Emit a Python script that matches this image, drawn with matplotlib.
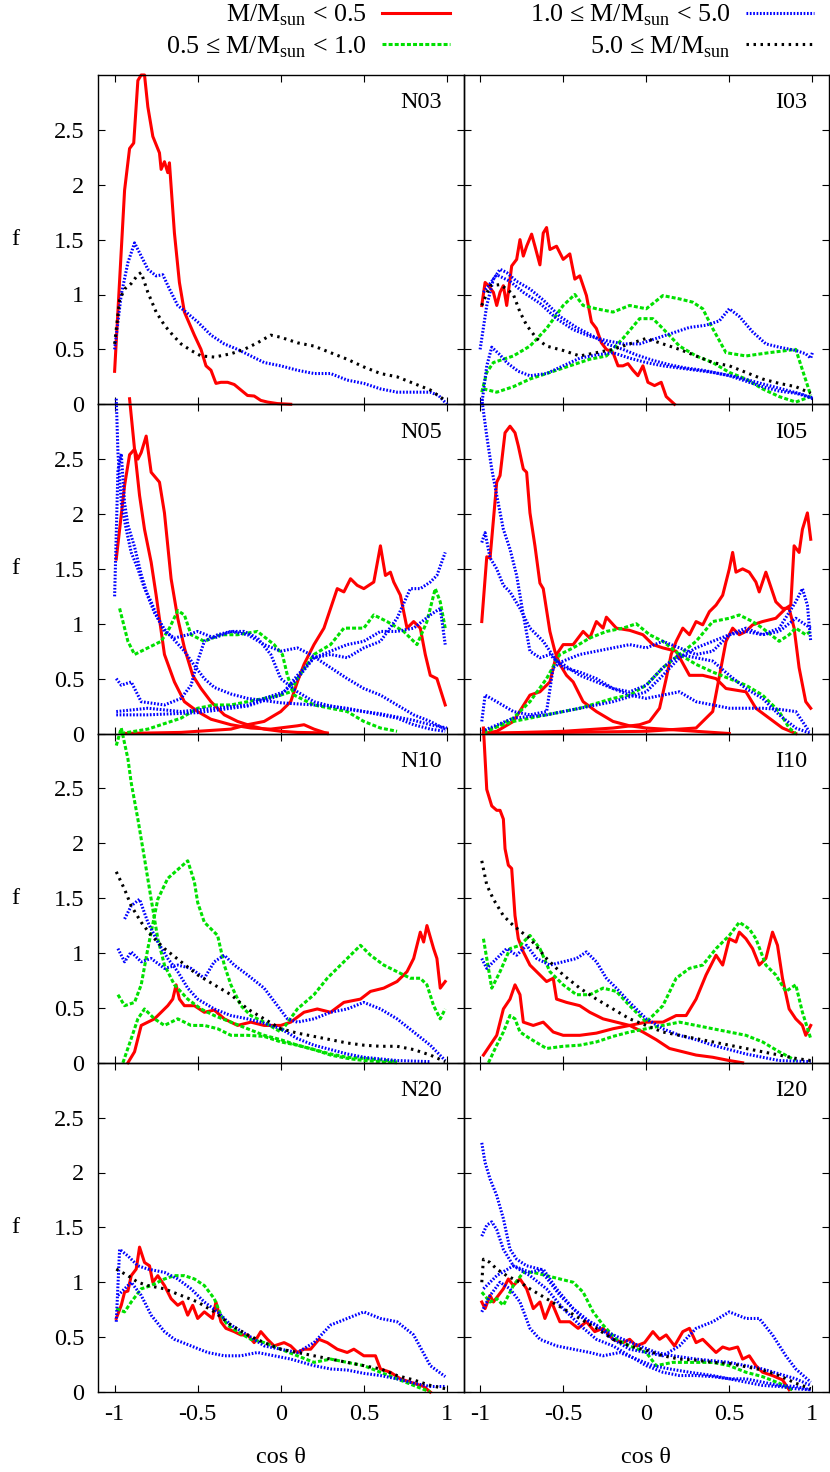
import matplotlib
matplotlib.use("Agg")
import matplotlib.pyplot as plt
from matplotlib.lines import Line2D

plt.rcParams['font.family'] = ['Liberation Serif', 'DejaVu Serif']
plt.rcParams['mathtext.fontset'] = 'custom'
plt.rcParams['mathtext.rm'] = 'Liberation Serif'
FS = 17.5
FS_LEG = 18.7

# ---- data: (cos theta, f) ----
N03_RED = [(-1.0, 0.30), (-0.94, 1.95), (-0.91, 2.33), (-0.885, 2.38), (-0.86, 2.95), (-0.84, 3.0),
           (-0.82, 3.0), (-0.80, 2.71), (-0.77, 2.44), (-0.73, 2.29), (-0.72, 2.14), (-0.70, 2.21),
           (-0.68, 2.11), (-0.67, 2.20), (-0.64, 1.56), (-0.61, 1.11), (-0.58, 0.84), (-0.52, 0.63),
           (-0.48, 0.50), (-0.45, 0.35), (-0.42, 0.31), (-0.39, 0.19), (-0.36, 0.20), (-0.32, 0.20),
           (-0.28, 0.18), (-0.24, 0.13), (-0.20, 0.08), (-0.16, 0.075), (-0.12, 0.035), (-0.08, 0.02),
           (-0.02, 0.006), (0.06, 0.0)]
N03_BLUE = [(-1.0, 0.50), (-0.96, 1.0), (-0.92, 1.29), (-0.88, 1.47), (-0.80, 1.23), (-0.75, 1.17),
            (-0.71, 1.18), (-0.67, 1.05), (-0.62, 0.90), (-0.57, 0.84), (-0.50, 0.75), (-0.42, 0.63),
            (-0.34, 0.55), (-0.26, 0.50), (-0.18, 0.44), (-0.10, 0.38), (0.0, 0.35), (0.10, 0.31),
            (0.20, 0.28), (0.30, 0.28), (0.40, 0.22), (0.50, 0.19), (0.60, 0.14), (0.70, 0.11),
            (0.80, 0.11), (0.90, 0.11), (0.95, 0.08), (1.0, 0.0)]
N03_BLACK = [(-1.0, 0.55), (-0.97, 0.95), (-0.94, 1.05), (-0.90, 1.10), (-0.86, 1.18), (-0.84, 1.20),
             (-0.80, 1.02), (-0.75, 0.84), (-0.70, 0.72), (-0.65, 0.63), (-0.60, 0.55), (-0.54, 0.49),
             (-0.48, 0.44), (-0.40, 0.43), (-0.30, 0.46), (-0.22, 0.50), (-0.14, 0.56), (-0.06, 0.63),
             (0.0, 0.61), (0.10, 0.56), (0.20, 0.53), (0.30, 0.47), (0.40, 0.41), (0.50, 0.34),
             (0.60, 0.28), (0.70, 0.25), (0.80, 0.19), (0.90, 0.13), (0.985, 0.04)]

I03_RED = [(-0.99, 0.90), (-0.97, 1.11), (-0.95, 1.08), (-0.92, 1.02), (-0.90, 0.90), (-0.88, 1.02),
           (-0.86, 1.08), (-0.84, 0.90), (-0.81, 1.26), (-0.78, 1.32), (-0.76, 1.50), (-0.74, 1.35),
           (-0.72, 1.44), (-0.69, 1.55), (-0.67, 1.44), (-0.64, 1.27), (-0.62, 1.56), (-0.60, 1.61),
           (-0.58, 1.41), (-0.54, 1.44), (-0.50, 1.32), (-0.46, 1.37), (-0.43, 1.14), (-0.40, 1.17),
           (-0.36, 0.99), (-0.33, 0.75), (-0.30, 0.69), (-0.27, 0.56), (-0.24, 0.50), (-0.20, 0.47),
           (-0.17, 0.35), (-0.14, 0.35), (-0.11, 0.37), (-0.08, 0.31), (-0.05, 0.26), (-0.02, 0.35),
           (0.01, 0.20), (0.05, 0.17), (0.09, 0.20), (0.12, 0.07), (0.17, 0.0)]
I03_GREEN_A = [(-0.99, 0.11), (-0.96, 0.29), (-0.92, 0.38), (-0.80, 0.44), (-0.70, 0.53), (-0.60, 0.69),
               (-0.50, 0.90), (-0.43, 1.0), (-0.38, 0.90), (-0.30, 0.87), (-0.20, 0.84), (-0.10, 0.90),
               (0.0, 0.87), (0.10, 0.99), (0.20, 0.96), (0.28, 0.93), (0.34, 0.87), (0.40, 0.69),
               (0.48, 0.47), (0.60, 0.44), (0.74, 0.47), (0.90, 0.50), (0.99, 0.08)]
I03_GREEN_B = [(-0.98, 0.14), (-0.90, 0.11), (-0.80, 0.16), (-0.70, 0.23), (-0.58, 0.29), (-0.46, 0.35),
               (-0.34, 0.41), (-0.24, 0.44), (-0.14, 0.60), (-0.04, 0.78), (0.04, 0.78), (0.10, 0.69),
               (0.20, 0.53), (0.30, 0.44), (0.40, 0.38), (0.50, 0.29), (0.60, 0.23), (0.70, 0.14),
               (0.80, 0.07), (0.90, 0.02), (0.99, 0.07)]
I03_BLUE_A = [(-1.0, 0.50), (-0.96, 0.90), (-0.92, 1.14), (-0.88, 1.23), (-0.84, 1.20), (-0.78, 1.12),
              (-0.70, 1.05), (-0.62, 0.95), (-0.52, 0.80), (-0.42, 0.70), (-0.32, 0.62), (-0.24, 0.55),
              (-0.14, 0.50), (-0.06, 0.45), (0.04, 0.40), (0.14, 0.36), (0.24, 0.33), (0.34, 0.31),
              (0.44, 0.28), (0.54, 0.25), (0.64, 0.21), (0.74, 0.17), (0.84, 0.13), (0.94, 0.09),
              (1.0, 0.05)]
I03_BLUE_B = [(-0.98, 1.02), (-0.90, 1.18), (-0.82, 1.12), (-0.74, 1.02), (-0.64, 0.92), (-0.54, 0.78),
              (-0.44, 0.68), (-0.34, 0.62), (-0.24, 0.58), (-0.14, 0.55), (-0.04, 0.55), (0.06, 0.60),
              (0.16, 0.65), (0.26, 0.70), (0.36, 0.72), (0.44, 0.76), (0.50, 0.87), (0.56, 0.80),
              (0.64, 0.66), (0.72, 0.55), (0.80, 0.52), (0.90, 0.49), (0.96, 0.46), (0.99, 0.42),
              (1.0, 0.47)]
I03_BLUE_C = [(-0.99, 0.0), (-0.96, 0.35), (-0.93, 0.52), (-0.88, 0.45), (-0.84, 0.38), (-0.77, 0.30),
              (-0.70, 0.26), (-0.60, 0.28), (-0.50, 0.35), (-0.40, 0.42), (-0.30, 0.45), (-0.20, 0.47),
              (-0.10, 0.42), (0.0, 0.38), (0.10, 0.35), (0.20, 0.33), (0.30, 0.31), (0.40, 0.29),
              (0.50, 0.26), (0.60, 0.21), (0.70, 0.16), (0.80, 0.12), (0.90, 0.10), (1.0, 0.06)]
I03_BLACK = [(-0.99, 0.90), (-0.94, 1.08), (-0.88, 1.09), (-0.84, 1.05), (-0.80, 1.0), (-0.76, 0.84),
             (-0.72, 0.72), (-0.66, 0.60), (-0.60, 0.53), (-0.50, 0.49), (-0.40, 0.44), (-0.30, 0.47),
             (-0.20, 0.50), (-0.10, 0.55), (0.0, 0.60), (0.10, 0.55), (0.20, 0.50), (0.30, 0.44),
             (0.40, 0.38), (0.50, 0.35), (0.60, 0.29), (0.70, 0.23), (0.80, 0.19), (0.90, 0.16),
             (0.99, 0.10)]

N05_RED_A = [(-0.99, 1.59), (-0.94, 2.26), (-0.91, 2.54), (-0.88, 2.59), (-0.86, 2.50), (-0.84, 2.56),
             (-0.81, 2.71), (-0.78, 2.38), (-0.73, 2.29), (-0.70, 2.01), (-0.66, 1.41), (-0.62, 1.05),
             (-0.58, 0.78), (-0.53, 0.53), (-0.48, 0.41), (-0.42, 0.29), (-0.34, 0.17), (-0.26, 0.11),
             (-0.18, 0.07), (-0.10, 0.04), (0.0, 0.02), (0.10, 0.01), (0.28, 0.005)]
N05_RED_B = [(-0.91, 3.05), (-0.88, 2.59), (-0.85, 2.17), (-0.82, 1.86), (-0.78, 1.56), (-0.75, 1.26),
             (-0.70, 0.72), (-0.64, 0.47), (-0.58, 0.29), (-0.50, 0.20), (-0.42, 0.13), (-0.30, 0.08),
             (-0.18, 0.05), (-0.06, 0.04), (0.10, 0.07), (0.14, 0.08), (0.20, 0.04), (0.28, 0.0)]
N05_RED_C = [(-0.96, 0.0), (-0.60, 0.01), (-0.30, 0.04), (-0.20, 0.08), (-0.10, 0.11), (0.0, 0.20),
             (0.06, 0.29), (0.10, 0.47), (0.14, 0.63), (0.20, 0.81), (0.26, 0.96), (0.30, 1.14),
             (0.34, 1.32), (0.38, 1.29), (0.42, 1.41), (0.46, 1.35), (0.50, 1.32), (0.56, 1.38),
             (0.60, 1.71), (0.63, 1.44), (0.66, 1.47), (0.68, 1.38), (0.72, 1.26), (0.76, 0.96),
             (0.80, 1.02), (0.84, 0.96), (0.87, 0.72), (0.90, 0.53), (0.94, 0.50), (0.99, 0.26)]
N05_GREEN_A = [(-0.97, 1.14), (-0.92, 0.84), (-0.88, 0.72), (-0.80, 0.78), (-0.72, 0.84), (-0.67, 0.96),
               (-0.62, 1.12), (-0.58, 1.08), (-0.54, 0.90), (-0.46, 0.84), (-0.36, 0.90), (-0.26, 0.90),
               (-0.14, 0.93), (-0.04, 0.81), (0.01, 0.72), (0.04, 0.53), (0.08, 0.35), (0.20, 0.26),
               (0.30, 0.23), (0.40, 0.20), (0.50, 0.11), (0.60, 0.05), (0.70, 0.02)]
N05_GREEN_B = [(-0.96, 0.0), (-0.80, 0.04), (-0.60, 0.14), (-0.50, 0.23), (-0.40, 0.26), (-0.30, 0.26),
               (-0.20, 0.29), (-0.10, 0.32), (0.0, 0.35), (0.06, 0.38), (0.10, 0.50), (0.20, 0.72),
               (0.30, 0.81), (0.38, 0.96), (0.50, 0.96), (0.56, 1.08), (0.64, 1.02), (0.74, 0.93),
               (0.82, 0.81), (0.88, 1.02), (0.93, 1.32), (0.96, 1.20), (0.99, 0.96)]
N05_BLUE_A = [(-0.99, 3.05), (-0.98, 2.56), (-0.96, 2.10), (-0.93, 1.86), (-0.90, 1.65), (-0.86, 1.50),
              (-0.82, 1.32), (-0.78, 1.20), (-0.74, 1.05), (-0.70, 0.93), (-0.64, 0.87), (-0.56, 0.90),
              (-0.50, 0.93), (-0.40, 0.87), (-0.30, 0.93), (-0.20, 0.90), (-0.10, 0.81), (0.0, 0.75),
              (0.10, 0.78), (0.18, 0.72), (0.30, 0.60), (0.40, 0.50), (0.50, 0.41), (0.60, 0.35),
              (0.70, 0.26), (0.80, 0.17), (0.90, 0.11), (0.99, 0.04)]
N05_BLUE_B = [(-1.0, 1.25), (-0.98, 2.40), (-0.96, 2.55), (-0.94, 2.10), (-0.92, 1.90), (-0.88, 1.70),
              (-0.84, 1.45), (-0.80, 1.25), (-0.76, 1.10), (-0.70, 0.95), (-0.64, 0.85), (-0.58, 0.75),
              (-0.52, 0.62), (-0.46, 0.50), (-0.40, 0.42), (-0.30, 0.36), (-0.20, 0.32), (-0.10, 0.30),
              (0.0, 0.28), (0.10, 0.27), (0.20, 0.26), (0.30, 0.25), (0.40, 0.22), (0.50, 0.20),
              (0.60, 0.18), (0.70, 0.15), (0.80, 0.12), (0.90, 0.08), (1.0, 0.05)]
N05_BLUE_C = [(-0.99, 0.50), (-0.96, 0.44), (-0.90, 0.47), (-0.84, 0.29), (-0.70, 0.26), (-0.60, 0.32),
              (-0.54, 0.44), (-0.50, 0.66), (-0.46, 0.84), (-0.38, 0.90), (-0.30, 0.93), (-0.22, 0.93),
              (-0.14, 0.87), (-0.06, 0.72), (0.0, 0.50), (0.10, 0.38), (0.20, 0.29), (0.30, 0.25),
              (0.40, 0.23), (0.50, 0.20), (0.60, 0.17), (0.70, 0.14), (0.80, 0.08), (0.90, 0.04),
              (0.99, 0.02)]
N05_BLUE_D = [(-0.99, 0.20), (-0.80, 0.23), (-0.60, 0.20), (-0.40, 0.23), (-0.20, 0.26), (-0.10, 0.32),
              (0.02, 0.38), (0.10, 0.53), (0.20, 0.69), (0.30, 0.75), (0.40, 0.81), (0.50, 0.84),
              (0.60, 0.93), (0.70, 0.93), (0.80, 0.96), (0.90, 1.08), (0.96, 1.14), (0.99, 0.81)]
N05_BLUE_E = [(-0.99, 0.17), (-0.80, 0.17), (-0.50, 0.19), (-0.20, 0.25), (0.0, 0.35), (0.10, 0.50),
              (0.20, 0.69), (0.30, 0.72), (0.40, 0.69), (0.50, 0.78), (0.60, 0.84), (0.70, 1.05),
              (0.78, 1.32), (0.84, 1.32), (0.90, 1.38), (0.94, 1.44), (0.99, 1.65)]

I05_RED_A = [(-0.99, 1.02), (-0.96, 1.61), (-0.94, 1.60), (-0.90, 2.29), (-0.88, 2.35), (-0.85, 2.74),
             (-0.82, 2.80), (-0.79, 2.74), (-0.77, 2.62), (-0.74, 2.41), (-0.72, 2.38), (-0.70, 2.01),
             (-0.67, 1.71), (-0.64, 1.37), (-0.62, 1.32), (-0.58, 0.93), (-0.55, 0.75), (-0.52, 0.63),
             (-0.48, 0.53), (-0.44, 0.47), (-0.38, 0.29), (-0.30, 0.20), (-0.20, 0.11), (-0.10, 0.07),
             (0.0, 0.05), (0.10, 0.04), (0.30, 0.02), (0.50, 0.0)]
I05_RED_B = [(-0.98, 0.0), (-0.90, 0.02), (-0.80, 0.11), (-0.70, 0.35), (-0.64, 0.38), (-0.58, 0.47),
             (-0.54, 0.72), (-0.50, 0.81), (-0.44, 0.81), (-0.38, 0.93), (-0.34, 0.87), (-0.30, 1.02),
             (-0.26, 0.96), (-0.24, 1.06), (-0.18, 0.96), (-0.10, 0.94), (-0.02, 0.90), (0.04, 0.81),
             (0.10, 0.78), (0.18, 0.75), (0.26, 0.53), (0.34, 0.53), (0.42, 0.50), (0.48, 0.41),
             (0.60, 0.38), (0.66, 0.23), (0.74, 0.14), (0.82, 0.05), (0.90, 0.0)]
I05_RED_C = [(-0.98, 0.0), (-0.50, 0.02), (-0.20, 0.05), (-0.04, 0.08), (0.02, 0.11), (0.08, 0.23),
             (0.12, 0.50), (0.15, 0.72), (0.18, 0.84), (0.22, 0.96), (0.26, 0.90), (0.30, 1.02),
             (0.34, 0.99), (0.38, 1.11), (0.42, 1.17), (0.46, 1.26), (0.50, 1.50), (0.52, 1.65),
             (0.54, 1.47), (0.58, 1.50), (0.62, 1.47), (0.66, 1.38), (0.68, 1.29), (0.70, 1.38),
             (0.72, 1.47), (0.74, 1.38), (0.78, 1.20), (0.82, 1.14), (0.86, 1.14), (0.89, 0.96),
             (0.92, 0.60), (0.96, 0.29), (0.99, 0.23)]
I05_RED_D = [(-0.98, 0.0), (0.0, 0.02), (0.30, 0.05), (0.40, 0.20), (0.48, 0.84), (0.52, 0.96),
             (0.56, 0.90), (0.60, 0.93), (0.64, 0.99), (0.70, 1.02), (0.78, 1.05), (0.84, 1.14),
             (0.87, 1.17), (0.89, 1.71), (0.92, 1.65), (0.94, 1.86), (0.97, 2.01), (0.99, 1.77)]
I05_GREEN_A = [(-0.98, 0.0), (-0.80, 0.14), (-0.70, 0.29), (-0.60, 0.50), (-0.52, 0.72), (-0.44, 0.78),
               (-0.34, 0.87), (-0.24, 0.93), (-0.14, 0.96), (-0.06, 1.0), (0.02, 0.90), (0.10, 0.84),
               (0.20, 0.72), (0.30, 0.63), (0.40, 0.56), (0.50, 0.50), (0.60, 0.44), (0.70, 0.35),
               (0.80, 0.20), (0.86, 0.05), (0.90, 0.0)]
I05_GREEN_B = [(-0.98, 0.02), (-0.80, 0.11), (-0.60, 0.17), (-0.40, 0.23), (-0.20, 0.32), (-0.10, 0.35),
               (0.0, 0.44), (0.10, 0.60), (0.20, 0.72), (0.30, 0.84), (0.40, 1.02), (0.50, 1.05),
               (0.56, 1.08), (0.64, 1.02), (0.70, 0.96), (0.80, 0.84), (0.86, 0.90), (0.90, 0.96),
               (0.96, 0.90), (0.99, 0.93)]
I05_BLUE_A = [(-0.99, 3.05), (-0.96, 2.71), (-0.93, 2.41), (-0.90, 2.17), (-0.86, 1.86), (-0.82, 1.68),
              (-0.78, 1.44), (-0.74, 1.08), (-0.70, 0.75), (-0.64, 0.69), (-0.58, 0.72), (-0.54, 0.66),
              (-0.50, 0.60), (-0.40, 0.56), (-0.30, 0.50), (-0.20, 0.41), (-0.10, 0.35), (0.0, 0.32),
              (0.10, 0.35), (0.20, 0.38), (0.30, 0.29), (0.40, 0.26), (0.50, 0.23), (0.60, 0.23),
              (0.70, 0.23), (0.80, 0.22), (0.90, 0.20), (0.94, 0.11), (0.98, 0.02)]
I05_BLUE_B = [(-0.99, 1.74), (-0.97, 1.83), (-0.94, 1.60), (-0.90, 1.50), (-0.86, 1.35), (-0.82, 1.29),
              (-0.76, 1.14), (-0.70, 0.96), (-0.62, 0.84), (-0.54, 0.66), (-0.50, 0.63), (-0.40, 0.53),
              (-0.30, 0.47), (-0.20, 0.41), (-0.10, 0.38), (0.0, 0.44), (0.10, 0.60), (0.20, 0.72),
              (0.30, 0.69), (0.40, 0.66), (0.50, 0.53), (0.60, 0.41), (0.70, 0.32), (0.80, 0.17),
              (0.90, 0.05), (0.99, 0.0)]
I05_BLUE_C = [(-0.99, 0.11), (-0.97, 0.35), (-0.90, 0.29), (-0.80, 0.20), (-0.70, 0.17), (-0.60, 0.20),
              (-0.56, 0.60), (-0.50, 0.66), (-0.40, 0.72), (-0.30, 0.75), (-0.20, 0.78), (-0.10, 0.81),
              (0.0, 0.78), (0.10, 0.84), (0.20, 0.78), (0.30, 0.72), (0.40, 0.75), (0.50, 0.90),
              (0.60, 0.93), (0.70, 0.90), (0.80, 0.96), (0.90, 1.20), (0.94, 1.32), (0.97, 1.17),
              (0.99, 0.84)]
I05_BLUE_D = [(-0.99, 0.02), (-0.80, 0.14), (-0.60, 0.17), (-0.40, 0.23), (-0.20, 0.29), (0.0, 0.38),
              (0.10, 0.53), (0.20, 0.69), (0.30, 0.78), (0.40, 0.84), (0.50, 0.90), (0.60, 0.96),
              (0.70, 0.90), (0.80, 0.93), (0.90, 1.05), (0.99, 0.96)]

N10_RED = [(-0.92, 0.0), (-0.88, 0.10), (-0.84, 0.34), (-0.80, 0.37), (-0.76, 0.40), (-0.72, 0.46),
           (-0.68, 0.52), (-0.65, 0.58), (-0.63, 0.71), (-0.61, 0.58), (-0.58, 0.52), (-0.52, 0.52),
           (-0.46, 0.46), (-0.40, 0.48), (-0.34, 0.40), (-0.26, 0.34), (-0.18, 0.37), (-0.10, 0.34),
           (0.0, 0.34), (0.06, 0.37), (0.14, 0.46), (0.22, 0.49), (0.30, 0.46), (0.38, 0.55),
           (0.48, 0.58), (0.54, 0.65), (0.62, 0.68), (0.70, 0.74), (0.76, 0.83), (0.80, 0.95),
           (0.84, 1.19), (0.86, 1.10), (0.88, 1.25), (0.92, 1.04), (0.94, 0.95), (0.96, 0.68),
           (0.99, 0.74)]
N10_GREEN_A = [(-0.99, 2.89), (-0.96, 3.05), (-0.92, 2.77), (-0.90, 2.55), (-0.86, 2.22), (-0.82, 1.86),
               (-0.78, 1.49), (-0.74, 1.13), (-0.70, 0.89), (-0.64, 0.71), (-0.56, 0.58), (-0.48, 0.49),
               (-0.40, 0.43), (-0.30, 0.37), (-0.20, 0.31), (-0.10, 0.25), (0.0, 0.21), (0.10, 0.16),
               (0.20, 0.12), (0.30, 0.07), (0.40, 0.04), (0.50, 0.02), (0.70, 0.0)]
N10_GREEN_B = [(-0.98, 0.62), (-0.94, 0.52), (-0.88, 0.55), (-0.84, 0.71), (-0.80, 1.04), (-0.74, 1.49),
               (-0.68, 1.68), (-0.62, 1.76), (-0.56, 1.84), (-0.52, 1.65), (-0.50, 1.46), (-0.46, 1.28),
               (-0.38, 1.16), (-0.34, 0.89), (-0.30, 0.71), (-0.24, 0.52), (-0.18, 0.43), (-0.10, 0.37),
               (0.0, 0.28), (0.10, 0.49), (0.20, 0.62), (0.28, 0.77), (0.36, 0.89), (0.42, 0.98),
               (0.48, 1.07), (0.54, 0.98), (0.62, 0.89), (0.70, 0.83), (0.78, 0.77), (0.84, 0.77),
               (0.88, 0.71), (0.92, 0.52), (0.96, 0.40), (0.99, 0.49)]
N10_GREEN_C = [(-0.95, 0.0), (-0.90, 0.22), (-0.86, 0.40), (-0.82, 0.49), (-0.76, 0.40), (-0.70, 0.34),
               (-0.62, 0.40), (-0.54, 0.34), (-0.46, 0.34), (-0.38, 0.31), (-0.30, 0.25), (-0.20, 0.25),
               (-0.10, 0.24), (0.0, 0.19), (0.10, 0.16), (0.20, 0.12), (0.30, 0.08), (0.40, 0.05),
               (0.50, 0.04), (0.70, 0.01)]
N10_BLUE_A = [(-0.98, 1.04), (-0.94, 0.92), (-0.90, 1.01), (-0.84, 0.92), (-0.78, 0.95), (-0.70, 0.86),
              (-0.62, 0.89), (-0.54, 0.86), (-0.46, 0.77), (-0.40, 0.92), (-0.34, 0.98), (-0.28, 0.89),
              (-0.20, 0.80), (-0.10, 0.68), (-0.02, 0.52), (0.04, 0.40), (0.10, 0.37), (0.20, 0.40),
              (0.30, 0.46), (0.40, 0.49), (0.50, 0.55), (0.60, 0.49), (0.70, 0.40), (0.80, 0.28),
              (0.90, 0.16), (0.99, 0.02)]
N10_BLUE_B = [(-0.94, 1.31), (-0.90, 1.43), (-0.85, 1.49), (-0.80, 1.28), (-0.74, 1.10), (-0.68, 0.95),
              (-0.62, 0.83), (-0.56, 0.68), (-0.50, 0.58), (-0.40, 0.49), (-0.30, 0.43), (-0.20, 0.40),
              (-0.10, 0.36), (0.0, 0.31), (0.10, 0.22), (0.20, 0.16), (0.30, 0.12), (0.40, 0.08),
              (0.50, 0.05), (0.70, 0.02), (0.90, 0.01)]
N10_BLACK = [(-0.99, 1.74), (-0.94, 1.58), (-0.90, 1.43), (-0.84, 1.28), (-0.78, 1.16), (-0.70, 1.04),
             (-0.60, 0.92), (-0.50, 0.80), (-0.40, 0.71), (-0.30, 0.62), (-0.20, 0.49), (-0.10, 0.40),
             (0.0, 0.31), (0.10, 0.27), (0.20, 0.24), (0.30, 0.21), (0.40, 0.18), (0.50, 0.16),
             (0.60, 0.15), (0.70, 0.15), (0.80, 0.12), (0.90, 0.07), (0.99, 0.01)]

I10_RED_A = [(-0.98, 3.05), (-0.96, 2.49), (-0.93, 2.34), (-0.90, 2.30), (-0.88, 2.30), (-0.86, 2.22),
             (-0.85, 1.95), (-0.83, 1.80), (-0.81, 1.77), (-0.79, 1.34), (-0.77, 1.13), (-0.74, 1.01),
             (-0.70, 0.89), (-0.64, 0.80), (-0.60, 0.74), (-0.56, 0.77), (-0.54, 0.58), (-0.48, 0.55),
             (-0.40, 0.52), (-0.34, 0.46), (-0.26, 0.40), (-0.18, 0.37), (-0.10, 0.34), (-0.02, 0.28),
             (0.06, 0.21), (0.14, 0.13), (0.22, 0.10), (0.30, 0.07), (0.40, 0.05), (0.50, 0.02),
             (0.58, 0.0)]
I10_RED_B = [(-0.98, 0.07), (-0.94, 0.16), (-0.90, 0.25), (-0.86, 0.49), (-0.82, 0.58), (-0.79, 0.71),
             (-0.76, 0.62), (-0.74, 0.37), (-0.68, 0.34), (-0.62, 0.37), (-0.56, 0.28), (-0.50, 0.25),
             (-0.40, 0.25), (-0.30, 0.27), (-0.20, 0.31), (-0.10, 0.34), (0.0, 0.37), (0.10, 0.37),
             (0.18, 0.43), (0.24, 0.43), (0.30, 0.58), (0.36, 0.80), (0.42, 0.98), (0.46, 0.89),
             (0.50, 1.13), (0.54, 1.10), (0.56, 1.19), (0.60, 1.13), (0.64, 1.04), (0.68, 0.89),
             (0.72, 0.95), (0.76, 1.19), (0.79, 1.07), (0.82, 0.77), (0.86, 0.49), (0.90, 0.40),
             (0.94, 0.34), (0.96, 0.25), (0.99, 0.34)]
I10_GREEN_A = [(-0.98, 1.13), (-0.93, 0.68), (-0.88, 0.83), (-0.82, 1.04), (-0.76, 1.07), (-0.70, 1.16),
               (-0.64, 1.04), (-0.58, 0.83), (-0.50, 0.71), (-0.42, 0.62), (-0.34, 0.62), (-0.26, 0.68),
               (-0.18, 0.65), (-0.10, 0.52), (0.0, 0.37), (0.10, 0.52), (0.18, 0.77), (0.26, 0.86),
               (0.34, 0.89), (0.42, 1.04), (0.50, 1.16), (0.56, 1.28), (0.62, 1.22), (0.66, 1.13),
               (0.72, 0.89), (0.78, 0.80), (0.84, 0.65), (0.90, 0.71), (0.94, 0.46), (0.99, 0.22)]
I10_GREEN_B = [(-0.95, 0.0), (-0.90, 0.16), (-0.86, 0.28), (-0.82, 0.43), (-0.79, 0.40), (-0.76, 0.28),
               (-0.70, 0.22), (-0.60, 0.13), (-0.50, 0.15), (-0.40, 0.16), (-0.30, 0.19), (-0.20, 0.24),
               (-0.10, 0.28), (0.0, 0.31), (0.10, 0.34), (0.20, 0.37), (0.30, 0.34), (0.40, 0.31),
               (0.50, 0.28), (0.60, 0.25), (0.70, 0.19), (0.80, 0.10), (0.90, 0.02)]
I10_BLUE = [(-0.99, 0.95), (-0.96, 0.86), (-0.90, 0.95), (-0.84, 1.04), (-0.78, 0.98), (-0.72, 1.07),
            (-0.66, 0.95), (-0.58, 0.89), (-0.50, 0.92), (-0.42, 0.95), (-0.36, 1.01), (-0.30, 0.92),
            (-0.24, 0.77), (-0.18, 0.68), (-0.10, 0.55), (0.0, 0.40), (0.10, 0.31), (0.20, 0.25),
            (0.30, 0.21), (0.40, 0.16), (0.50, 0.12), (0.60, 0.08), (0.70, 0.05), (0.80, 0.02),
            (0.99, 0.01)]
I10_BLACK = [(-0.99, 1.84), (-0.96, 1.62), (-0.92, 1.49), (-0.86, 1.34), (-0.80, 1.25), (-0.70, 1.13),
             (-0.60, 0.95), (-0.50, 0.80), (-0.40, 0.68), (-0.30, 0.58), (-0.20, 0.49), (-0.10, 0.40),
             (0.0, 0.34), (0.10, 0.28), (0.20, 0.25), (0.30, 0.22), (0.40, 0.19), (0.50, 0.16),
             (0.60, 0.13), (0.70, 0.10), (0.80, 0.07), (0.90, 0.04), (0.99, 0.02)]

N20_RED = [(-0.99, 0.67), (-0.96, 0.79), (-0.94, 0.91), (-0.92, 0.92), (-0.90, 1.06), (-0.87, 1.12),
           (-0.85, 1.32), (-0.82, 1.18), (-0.79, 1.15), (-0.77, 1.0), (-0.74, 1.06), (-0.70, 0.97),
           (-0.66, 0.85), (-0.62, 0.79), (-0.59, 0.82), (-0.56, 0.70), (-0.53, 0.79), (-0.50, 0.67),
           (-0.46, 0.73), (-0.41, 0.67), (-0.39, 0.82), (-0.36, 0.64), (-0.33, 0.58), (-0.28, 0.55),
           (-0.24, 0.52), (-0.20, 0.52), (-0.16, 0.45), (-0.12, 0.55), (-0.08, 0.48), (-0.04, 0.42),
           (0.02, 0.45), (0.06, 0.42), (0.10, 0.36), (0.14, 0.39), (0.18, 0.39), (0.23, 0.48),
           (0.28, 0.45), (0.34, 0.39), (0.40, 0.36), (0.44, 0.39), (0.50, 0.33), (0.57, 0.33),
           (0.60, 0.21), (0.66, 0.18), (0.72, 0.12), (0.80, 0.08), (0.86, 0.05), (0.90, 0.0)]
N20_GREEN = [(-0.99, 0.76), (-0.94, 0.73), (-0.90, 0.82), (-0.84, 0.94), (-0.78, 0.97), (-0.70, 1.03),
             (-0.64, 1.06), (-0.58, 1.06), (-0.52, 1.03), (-0.46, 0.97), (-0.40, 0.85), (-0.36, 0.70),
             (-0.32, 0.61), (-0.26, 0.55), (-0.18, 0.48), (-0.10, 0.45), (0.0, 0.39), (0.10, 0.33),
             (0.20, 0.27), (0.30, 0.30), (0.40, 0.27), (0.50, 0.24), (0.60, 0.18), (0.70, 0.12),
             (0.80, 0.06), (0.90, 0.0)]
N20_BLUE_A = [(-0.99, 0.64), (-0.97, 1.30), (-0.92, 1.24), (-0.86, 1.15), (-0.80, 1.12), (-0.70, 1.09),
              (-0.62, 1.03), (-0.54, 0.94), (-0.46, 0.82), (-0.38, 0.73), (-0.30, 0.61), (-0.20, 0.52),
              (-0.10, 0.42), (0.0, 0.39), (0.10, 0.36), (0.20, 0.45), (0.30, 0.61), (0.40, 0.67),
              (0.50, 0.73), (0.60, 0.67), (0.70, 0.64), (0.80, 0.52), (0.90, 0.24), (0.99, 0.14)]
N20_BLUE_B = [(-0.98, 0.88), (-0.90, 1.0), (-0.84, 0.88), (-0.78, 0.70), (-0.70, 0.55), (-0.64, 0.48),
              (-0.54, 0.42), (-0.44, 0.36), (-0.34, 0.33), (-0.24, 0.33), (-0.14, 0.36), (-0.04, 0.33),
              (0.06, 0.30), (0.20, 0.24), (0.30, 0.21), (0.40, 0.20), (0.50, 0.17), (0.60, 0.15),
              (0.70, 0.12), (0.80, 0.08), (0.90, 0.05), (0.99, 0.05)]
N20_BLACK = [(-0.99, 1.12), (-0.92, 1.06), (-0.86, 1.0), (-0.80, 0.97), (-0.70, 0.94), (-0.60, 0.88),
             (-0.50, 0.82), (-0.40, 0.73), (-0.30, 0.61), (-0.20, 0.52), (-0.10, 0.45), (0.0, 0.39),
             (0.10, 0.36), (0.20, 0.33), (0.30, 0.30), (0.40, 0.27), (0.50, 0.24), (0.60, 0.21),
             (0.70, 0.15), (0.80, 0.11), (0.90, 0.06), (0.99, 0.03)]

I20_RED = [(-0.99, 0.82), (-0.97, 0.76), (-0.94, 0.88), (-0.92, 0.82), (-0.89, 0.88), (-0.86, 0.94),
           (-0.83, 1.03), (-0.80, 0.97), (-0.76, 1.03), (-0.72, 0.94), (-0.68, 0.76), (-0.64, 0.82),
           (-0.61, 0.67), (-0.57, 0.82), (-0.52, 0.64), (-0.46, 0.64), (-0.41, 0.58), (-0.36, 0.64),
           (-0.31, 0.55), (-0.26, 0.58), (-0.20, 0.48), (-0.14, 0.45), (-0.10, 0.48), (-0.06, 0.42),
           (-0.01, 0.45), (0.04, 0.55), (0.08, 0.48), (0.12, 0.52), (0.17, 0.42), (0.22, 0.55),
           (0.26, 0.58), (0.30, 0.45), (0.34, 0.48), (0.38, 0.42), (0.42, 0.36), (0.46, 0.41),
           (0.50, 0.39), (0.55, 0.41), (0.58, 0.30), (0.62, 0.33), (0.66, 0.24), (0.70, 0.18),
           (0.76, 0.15), (0.82, 0.11), (0.86, 0.02)]
I20_GREEN = [(-0.99, 0.91), (-0.94, 0.82), (-0.90, 0.85), (-0.86, 0.79), (-0.80, 0.97), (-0.74, 1.09),
             (-0.68, 1.09), (-0.60, 1.06), (-0.52, 1.03), (-0.44, 1.0), (-0.38, 0.91), (-0.32, 0.73),
             (-0.26, 0.61), (-0.18, 0.48), (-0.10, 0.42), (0.0, 0.36), (0.06, 0.24), (0.16, 0.27),
             (0.30, 0.27), (0.40, 0.27), (0.50, 0.24), (0.60, 0.18), (0.70, 0.14), (0.80, 0.08),
             (0.88, 0.02)]
I20_BLUE_A = [(-0.99, 2.27), (-0.97, 2.09), (-0.94, 1.94), (-0.90, 1.79), (-0.86, 1.58), (-0.82, 1.30),
              (-0.78, 1.21), (-0.72, 1.15), (-0.64, 1.12), (-0.58, 1.0), (-0.52, 0.88), (-0.46, 0.79),
              (-0.38, 0.67), (-0.30, 0.61), (-0.20, 0.48), (-0.10, 0.39), (0.0, 0.36), (0.10, 0.33),
              (0.20, 0.42), (0.30, 0.58), (0.40, 0.64), (0.50, 0.73), (0.60, 0.67), (0.68, 0.67),
              (0.76, 0.52), (0.84, 0.33), (0.90, 0.21), (0.99, 0.09)]
I20_BLUE_B = [(-0.99, 1.42), (-0.96, 1.52), (-0.93, 1.55), (-0.90, 1.48), (-0.86, 1.30), (-0.80, 1.15),
              (-0.70, 1.06), (-0.60, 0.94), (-0.50, 0.76), (-0.40, 0.61), (-0.30, 0.48), (-0.20, 0.42),
              (-0.10, 0.33), (0.0, 0.24), (0.10, 0.18), (0.20, 0.15), (0.30, 0.15), (0.40, 0.14),
              (0.50, 0.12), (0.60, 0.09), (0.70, 0.06), (0.80, 0.05), (0.90, 0.03), (0.99, 0.02)]
I20_BLUE_C = [(-0.99, 0.73), (-0.94, 0.88), (-0.88, 1.0), (-0.82, 0.94), (-0.76, 0.82), (-0.70, 0.58),
              (-0.64, 0.48), (-0.54, 0.42), (-0.44, 0.39), (-0.34, 0.36), (-0.26, 0.33), (-0.16, 0.36),
              (-0.06, 0.30), (0.04, 0.24), (0.14, 0.21), (0.26, 0.18), (0.40, 0.15), (0.50, 0.12),
              (0.60, 0.12), (0.70, 0.09), (0.80, 0.06), (0.90, 0.05), (0.99, 0.02)]
I20_BLUE_D = [(-0.98, 0.94), (-0.90, 1.06), (-0.80, 1.15), (-0.70, 1.09), (-0.62, 1.12), (-0.54, 0.94),
              (-0.44, 0.76), (-0.34, 0.64), (-0.24, 0.55), (-0.14, 0.48), (-0.04, 0.42), (0.06, 0.36),
              (0.16, 0.33), (0.30, 0.30), (0.50, 0.27), (0.70, 0.21), (0.90, 0.12), (0.99, 0.06)]
I20_BLACK = [(-0.99, 1.0), (-0.98, 1.21), (-0.94, 1.18), (-0.90, 1.12), (-0.84, 1.06), (-0.76, 1.0),
             (-0.70, 0.94), (-0.60, 0.85), (-0.50, 0.76), (-0.40, 0.67), (-0.30, 0.58), (-0.20, 0.48),
             (-0.10, 0.42), (0.0, 0.38), (0.10, 0.33), (0.20, 0.30), (0.30, 0.29), (0.40, 0.27),
             (0.50, 0.26), (0.60, 0.23), (0.70, 0.20), (0.80, 0.15), (0.90, 0.08), (0.99, 0.03)]

PANEL_NAMES = ["N03", "I03", "N05", "I05", "N10", "I10", "N20", "I20"]
PANEL_CURVES = [
    [(N03_RED, 'red'), (N03_BLUE, 'blue'), (N03_BLACK, 'black')],
    [(I03_RED, 'red'), (I03_GREEN_A, 'green'), (I03_GREEN_B, 'green'), (I03_BLUE_A, 'blue'),
     (I03_BLUE_B, 'blue'), (I03_BLUE_C, 'blue'), (I03_BLACK, 'black')],
    [(N05_RED_A, 'red'), (N05_RED_B, 'red'), (N05_RED_C, 'red'), (N05_GREEN_A, 'green'),
     (N05_GREEN_B, 'green'), (N05_BLUE_A, 'blue'), (N05_BLUE_B, 'blue'), (N05_BLUE_C, 'blue'),
     (N05_BLUE_D, 'blue'), (N05_BLUE_E, 'blue')],
    [(I05_RED_A, 'red'), (I05_RED_B, 'red'), (I05_RED_C, 'red'), (I05_RED_D, 'red'),
     (I05_GREEN_A, 'green'), (I05_GREEN_B, 'green'), (I05_BLUE_A, 'blue'), (I05_BLUE_B, 'blue'),
     (I05_BLUE_C, 'blue'), (I05_BLUE_D, 'blue')],
    [(N10_RED, 'red'), (N10_GREEN_A, 'green'), (N10_GREEN_B, 'green'), (N10_GREEN_C, 'green'),
     (N10_BLUE_A, 'blue'), (N10_BLUE_B, 'blue'), (N10_BLACK, 'black')],
    [(I10_RED_A, 'red'), (I10_RED_B, 'red'), (I10_GREEN_A, 'green'), (I10_GREEN_B, 'green'),
     (I10_BLUE, 'blue'), (I10_BLACK, 'black')],
    [(N20_RED, 'red'), (N20_GREEN, 'green'), (N20_BLUE_A, 'blue'), (N20_BLUE_B, 'blue'),
     (N20_BLACK, 'black')],
    [(I20_RED, 'red'), (I20_GREEN, 'green'), (I20_BLUE_A, 'blue'), (I20_BLUE_B, 'blue'),
     (I20_BLUE_C, 'blue'), (I20_BLUE_D, 'blue'), (I20_BLACK, 'black')],
]

LEGEND_LABELS = [r'M/$\mathrm{M}_{\mathrm{sun}}$ < 0.5',
                 r'0.5 ≤ M/$\mathrm{M}_{\mathrm{sun}}$ < 1.0',
                 r'1.0 ≤ M/$\mathrm{M}_{\mathrm{sun}}$ < 5.0',
                 r'5.0 ≤ M/$\mathrm{M}_{\mathrm{sun}}$']
XTICKS = [-1, -0.5, 0, 0.5, 1]
XTICKLABELS = ['-1', '-0.5', '0', '0.5', '1']
YTICKS = [0, 0.5, 1, 1.5, 2, 2.5]
YTICKLABELS = ['0', '0.5', '1', '1.5', '2', '2.5']

LW = 2.2
STYLE = {
    'red': dict(color='#ff0000', linestyle='-', linewidth=LW),
    'green': dict(color='#00e000', linestyle=(0, (1.3, 0.7)), linewidth=LW),
    'blue': dict(color='#0000ff', linestyle=(0, (0.55, 0.55)), linewidth=LW),
    'black': dict(color='#000000', linestyle=(0, (0.8, 1.5)), linewidth=LW),
}

W, H = 830, 1472
fig = plt.figure(figsize=(W / 100, H / 100), dpi=100)
left, right, top, bottom = 98 / W, 829 / W, 1 - 75 / H, 1 - 1392 / H
pw = (right - left) / 2
ph = (top - bottom) / 4

for i, (name, curves) in enumerate(zip(PANEL_NAMES, PANEL_CURVES)):
    r, c = divmod(i, 2)
    ax = fig.add_axes([left + c * pw, top - (r + 1) * ph, pw, ph])
    ax.patch.set_visible(False)
    for data, kind in curves:
        xs = [p[0] for p in data]
        ys = [p[1] for p in data]
        ax.plot(xs, ys, clip_on=False, **STYLE[kind])
    ax.set_xlim(-1.1, 1.1)
    ax.set_ylim(0, 3)
    ax.set_xticks(XTICKS)
    ax.set_yticks(YTICKS)
    ax.set_xticklabels(XTICKLABELS)
    ax.set_yticklabels(YTICKLABELS)
    ax.tick_params(direction='in', top=True, right=True, length=5, width=0.8,
                   labelsize=FS, labelleft=(c == 0), labelbottom=(r == 3))
    ax.tick_params(axis='y', pad=10)
    ax.tick_params(axis='x', pad=9)
    for s in ax.spines.values():
        s.set_linewidth(1.0)
    ax.text(0.94, 0.915, name, transform=ax.transAxes, ha='right', va='center', fontsize=FS)
    if c == 0:
        ax.set_ylabel('f', rotation=0, fontsize=FS, va='center', ha='center')
        ax.yaxis.set_label_coords(-0.227, 0.5)
    if r == 3:
        ax.set_xlabel('cos θ', fontsize=FS, va='center')
        ax.xaxis.set_label_coords(0.5, -0.2)

handles = [Line2D([], [], **STYLE[k]) for k in ['red', 'green', 'blue', 'black']]
fig.legend(handles, LEGEND_LABELS, ncol=2, markerfirst=False, frameon=False,
           loc='upper right', bbox_to_anchor=(814 / W, 1 - 3 / H), borderaxespad=0,
           borderpad=0, handlelength=2.6, handletextpad=0.6, columnspacing=3.1,
           labelspacing=0.22, fontsize=FS_LEG)

fig.savefig('out.png', dpi=100)
